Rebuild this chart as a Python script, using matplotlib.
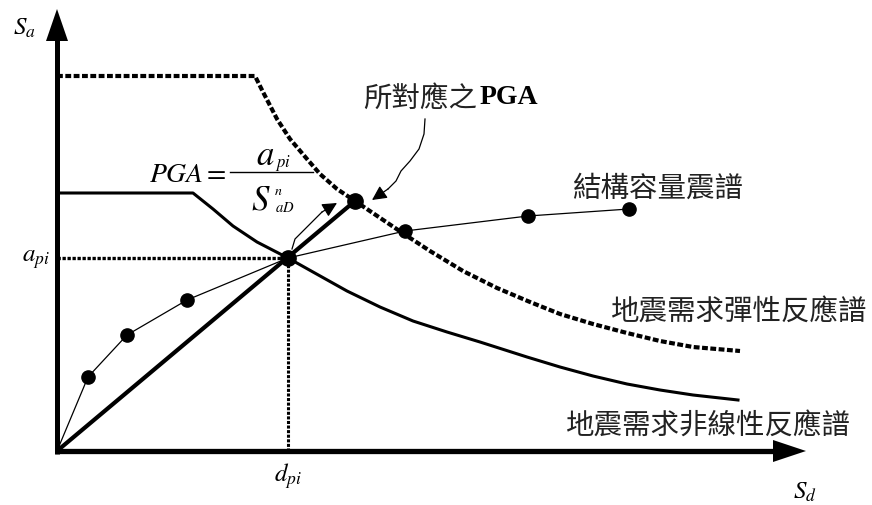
import matplotlib
matplotlib.use("Agg")
import matplotlib.pyplot as plt

plt.rcParams['mathtext.fontset'] = 'stix'
CJK = ['Noto Sans CJK TC', 'DejaVu Sans']

# ---- data (Sd, Sa) ----
elastic_sd = [0, 198, 206, 220, 233, 250, 263, 280, 298, 347, 373, 406, 440, 473, 503, 536, 570, 603, 636, 683]
elastic_sa = [375, 375, 359, 332, 312, 292, 277, 262, 250, 217, 200, 180, 163, 149, 137, 127, 118, 110, 104, 100]

inelastic_sd = [0, 136, 156, 176, 200, 231, 256, 290, 323, 356, 390, 423, 470, 503, 536, 570, 603, 636, 681]
inelastic_sa = [258, 258, 242, 225, 209, 193, 179, 160, 144, 130, 119, 109, 94, 84, 75, 67, 61, 56, 51]

capacity_sd = [0, 31, 70, 130, 231, 348, 471, 572]
capacity_sa = [0, 74, 116, 151, 193, 220, 235, 242]

perf_sd, perf_sa = 231, 193          # (d_pi, a_pi)
pga_sd, pga_sa = 298, 250            # elastic demand point on radial line

squiggle1_sd = [368, 367, 362, 353, 344, 339, 331]
squiggle1_sa = [332, 317, 302, 290, 280, 270, 262]
squiggle1_tip = (315, 251)
squiggle2_sd = [235, 238, 245, 252, 260, 265]
squiggle2_sa = [202, 212, 219, 226, 234, 239]
squiggle2_tip = (280, 248)

label_elastic = '地震需求彈性反應譜'
label_inelastic = '地震需求非線性反應譜'
label_capacity = '結構容量震譜'
label_pga_cjk = '所對應之'
label_pga_en = 'PGA'

fig = plt.figure(figsize=(8.72, 5.06), dpi=100)
ax = fig.add_axes([0, 0, 1, 1])
ax.set_xlim(-57, 815)
ax.set_ylim(-54, 452)
ax.axis('off')

k = 'black'
# axes with arrows
ax.plot([0, 0], [-3, 412], color=k, lw=3.6, solid_capstyle='butt')
ax.plot([-2, 718], [0, 0], color=k, lw=3.8, solid_capstyle='butt')
ax.fill([-11, 11, 0], [410, 410, 442], color=k, lw=0)
ax.fill([716, 716, 749], [-11, 11, 0], color=k, lw=0)

# elastic demand spectrum (dotted heavy)
ax.plot(elastic_sd, elastic_sa, color=k, lw=3.0, linestyle=(0, (1.4, 0.6)),
        dash_capstyle='butt', solid_joinstyle='round')
# inelastic demand spectrum
ax.plot(inelastic_sd, inelastic_sa, color=k, lw=2.2, solid_joinstyle='round')
# guide lines to performance point
ax.plot([0, perf_sd], [perf_sa, perf_sa], color=k, lw=2.4, linestyle=(0, (1.0, 0.5)),
        dash_capstyle='butt')
ax.plot([perf_sd, perf_sd], [0, perf_sa], color=k, lw=2.2, linestyle=(0, (1.0, 0.5)),
        dash_capstyle='butt')
# radial line
ax.plot([0, pga_sd], [0, pga_sa], color=k, lw=3.0, solid_capstyle='round')
# capacity spectrum
ax.plot(capacity_sd, capacity_sa, color=k, lw=0.9)
ax.plot(capacity_sd[1:], capacity_sa[1:], 'o', color=k, ms=9.5)
ax.plot([perf_sd], [perf_sa], 'o', color=k, ms=11)
ax.plot([pga_sd], [pga_sa], 'o', color=k, ms=11)

# squiggly arrows
ax.plot(squiggle1_sd, squiggle1_sa, color=k, lw=0.9)
ax.annotate('', xy=squiggle1_tip, xytext=(squiggle1_sd[-1], squiggle1_sa[-1]),
            arrowprops=dict(arrowstyle='-|>', color=k, lw=0.9, mutation_scale=22,
                            shrinkA=0, shrinkB=0))
ax.plot(squiggle2_sd, squiggle2_sa, color=k, lw=0.9)
ax.annotate('', xy=squiggle2_tip, xytext=(squiggle2_sd[-1], squiggle2_sa[-1]),
            arrowprops=dict(arrowstyle='-|>', color=k, lw=0.9, mutation_scale=22,
                            shrinkA=0, shrinkB=0))

# axis labels
ax.text(-44, 424, r'$S_a$', fontsize=18, ha='left', va='center')
ax.text(-7, 193, r'$a_{pi}$', fontsize=18, ha='right', va='center')
ax.text(perf_sd, -24, r'$d_{pi}$', fontsize=18, ha='center', va='center')
ax.text(736, -40, r'$S_d$', fontsize=18, ha='left', va='center')

# PGA formula
ax.text(92, 278, r'$PGA=$', fontsize=20, ha='left', va='center')
ax.plot([173, 256], [279.5, 279.5], color=k, lw=1.0)
ax.text(208, 297, r'$a$', fontsize=25, ha='center', va='center')
ax.text(226, 289, r'$pi$', fontsize=12, ha='center', va='center')
ax.text(204, 253, r'$S$', fontsize=25, ha='center', va='center')
ax.text(221, 261, r'$n$', fontsize=10, ha='center', va='center')
ax.text(228, 244, r'$aD$', fontsize=10.5, ha='center', va='center')

# CJK labels
ax.text(306, 353, label_pga_cjk, fontsize=20.5, family=CJK, ha='left', va='center', color='#222222')
ax.text(423, 354, label_pga_en, fontsize=20, family=['Liberation Serif'], weight='bold',
        ha='left', va='center')
ax.text(515, 263, label_capacity, fontsize=20.5, family=CJK, ha='left', va='center', color='#222222')
ax.text(553, 140, label_elastic, fontsize=20.5, family=CJK, ha='left', va='center', color='#222222')
ax.text(508, 26, label_inelastic, fontsize=20.5, family=CJK, ha='left', va='center', color='#222222')

fig.savefig('out.png', dpi=100)
